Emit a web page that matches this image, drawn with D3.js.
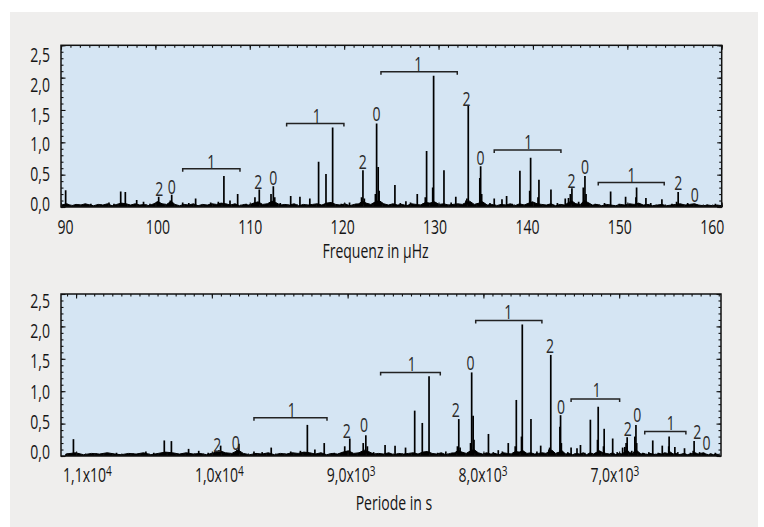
<!DOCTYPE html>
<meta charset="utf-8">
<style>
body { margin: 0; background: #fff; }
svg text {
	font-family: "Open Sans", "Noto Sans", sans-serif;
	font-size: 19.5px;
	fill: #151515;
	transform: scaleX(0.72);
	transform-box: fill-box;
	transform-origin: 50% 50%;
}
.ylab text { transform-origin: 100% 50%; }
</style>
<svg width="764" height="527"></svg>
<script src="https://d3js.org/d3.v7.min.js"></script>
<script>

// spectrum lines: [frequency in µHz, amplitude]
var peaks = [
	[90.07,0.26],[94.76,0.07],[96.03,0.24],[96.53,0.23],[97.76,0.11],[98.5,0.08],
	[100.0,0.09],[100.14,0.16],[101.4,0.10],[101.55,0.19],[102.74,0.07],[104.14,0.13],
	[105.77,0.07],[106.6,0.08],[107.2,0.48],[107.86,0.10],[108.69,0.20],
	[110.56,0.15],[111.03,0.27],[112.3,0.20],[112.55,0.32],[112.7,0.15],
	[114.43,0.17],[115.43,0.16],[116.5,0.13],[117.45,0.70],[118.25,0.51],[118.97,1.23],
	[122.1,0.15],[122.25,0.57],[122.4,0.13],[123.6,0.20],[123.73,1.29],[123.9,0.62],[124.0,0.25],
	[125.71,0.34],[126.9,0.09],[128.13,0.20],[129.0,0.15],[129.14,0.865],[129.8,0.30],[129.9,2.03],
	[131.02,0.57],[132.3,0.16],[133.4,0.10],[133.5,0.13],[133.65,1.56],[134.9,0.45],[134.99,0.63],[135.1,0.20],
	[136.46,0.13],[137.3,0.12],[137.8,0.17],[139.24,0.56],[140.3,0.25],[140.4,0.76],[141.2,0.15],[141.3,0.42],
	[142.6,0.27],[144.15,0.13],[144.5,0.14],[144.7,0.20],[144.87,0.29],[146.1,0.30],[146.28,0.48],[146.4,0.20],
	[149.06,0.24],[150.68,0.16],[151.8,0.15],[151.87,0.30],[152.88,0.14],[154.61,0.12],
	[156.2,0.08],[156.37,0.23],[157.9,0.04],[158.18,0.05],
	[91.5,0.04],[92.8,0.05],[93.9,0.04],[95.3,0.05],[99.2,0.05],[103.4,0.06],[109.6,0.05],
	[113.3,0.06],[119.9,0.05],[120.8,0.07],[121.5,0.05],[126.3,0.06],[127.4,0.07],[128.8,0.06],
	[131.8,0.07],[136.0,0.06],[138.4,0.05],[143.3,0.06],[145.6,0.08],[147.4,0.05],[148.4,0.06],
	[150.0,0.05],[153.4,0.06],[155.7,0.05],[157.4,0.06],[159.5,0.04],[160.4,0.05]
];

// noise floor: [frequency in µHz, amplitude]
var noise = [
	[89.6,0.03],[90.2,0.05],[90.7,0.02],[91.2,0.04],[91.7,0.03],[92.2,0.05],[92.7,0.03],[93.1,0.02],
	[93.6,0.04],[94.1,0.03],[94.6,0.05],[95.1,0.02],[95.6,0.04],[96.1,0.06],[96.6,0.05],[97.1,0.03],
	[97.6,0.05],[98.1,0.03],[98.6,0.04],[99.1,0.02],[99.6,0.05],[100.1,0.08],[100.5,0.05],[101.0,0.04],
	[101.5,0.09],[101.9,0.04],[102.4,0.02],[102.9,0.04],[103.4,0.03],[103.9,0.05],[104.4,0.02],[104.9,0.04],
	[105.4,0.03],[105.9,0.05],[106.4,0.04],[106.9,0.06],[107.4,0.05],[107.9,0.03],[108.4,0.05],[108.9,0.02],
	[109.4,0.04],[109.9,0.03],[110.4,0.06],[110.9,0.08],[111.4,0.04],[111.9,0.05],[112.4,0.09],[112.8,0.07],
	[113.3,0.03],[113.8,0.04],[114.3,0.03],[114.8,0.05],[115.3,0.02],[115.8,0.04],[116.3,0.03],[116.8,0.04],
	[117.3,0.05],[117.8,0.03],[118.3,0.06],[118.8,0.07],[119.3,0.04],[119.8,0.03],[120.3,0.05],[120.8,0.02],
	[121.3,0.04],[121.8,0.05],[122.2,0.09],[122.6,0.06],[123.1,0.04],[123.6,0.08],[124.0,0.10],[124.5,0.05],
	[125.0,0.03],[125.5,0.05],[126.0,0.03],[126.5,0.04],[127.0,0.02],[127.5,0.05],[128.0,0.04],[128.5,0.03],
	[129.0,0.07],[129.5,0.06],[130.0,0.08],[130.5,0.04],[131.0,0.05],[131.5,0.03],[132.0,0.04],[132.5,0.05],
	[133.0,0.04],[133.4,0.07],[133.8,0.09],[134.3,0.04],[134.8,0.06],[135.2,0.08],[135.7,0.03],[136.2,0.04],
	[136.7,0.02],[137.2,0.04],[137.7,0.03],[138.2,0.05],[138.7,0.02],[139.2,0.05],[139.7,0.03],[140.2,0.06],
	[140.6,0.08],[141.1,0.05],[141.6,0.04],[142.1,0.03],[142.6,0.05],[143.1,0.02],[143.6,0.04],[144.1,0.03],
	[144.5,0.07],[144.9,0.09],[145.3,0.05],[145.8,0.04],[146.2,0.10],[146.6,0.07],[147.1,0.03],[147.6,0.04],
	[148.1,0.02],[148.6,0.04],[149.1,0.03],[149.6,0.02],[150.1,0.04],[150.6,0.03],[151.1,0.05],[151.6,0.04],
	[152.1,0.06],[152.6,0.03],[153.1,0.04],[153.6,0.02],[154.1,0.03],[154.6,0.04],[155.1,0.02],[155.6,0.03],
	[156.1,0.04],[156.6,0.05],[157.1,0.03],[157.6,0.04],[158.1,0.05],[158.6,0.03],[159.1,0.02],[159.6,0.03],
	[160.1,0.02],[160.6,0.03],[161.1,0.02]
];

// multiplet brackets: [from µHz, to µHz, height]
var brackets = [
	[102.74,108.94,0.59],[113.99,120.19,1.29],[124.2,132.46,2.09],
	[136.46,143.68,0.88],[147.72,154.86,0.38]
];

// degree labels, upper panel: [µHz, height, text]
var topLabels = [
	[100.21,0.28,"2"],[101.55,0.31,"0"],[105.84,0.70,"1"],
	[110.92,0.39,"2"],[112.54,0.45,"0"],[117.24,1.42,"1"],
	[122.22,0.70,"2"],[123.73,1.45,"0"],[128.24,2.22,"1"],
	[133.47,1.68,"2"],[134.99,0.76,"0"],[140.14,1.01,"1"],
	[144.84,0.41,"2"],[146.28,0.62,"0"],[151.33,0.50,"1"],
	[156.37,0.38,"2"],[158.18,0.20,"0"]
];

// degree labels, lower panel: [period in s, height, text]
var bottomLabels = [
	[10011,0.17,"2"],[9872,0.20,"0"],[9447,0.72,"1"],
	[9030,0.39,"2"],[8899,0.49,"0"],[8537,1.43,"1"],
	[8203,0.71,"2"],[8090,1.44,"0"],[7804,2.23,"1"],
	[7488,1.70,"2"],[7405,0.77,"0"],[7134,1.03,"1"],
	[6899,0.43,"2"],[6826,0.64,"0"],[6573,0.51,"1"],
	[6371,0.38,"2"],[6300,0.20,"0"]
];

var ampTicks = [0, 0.5, 1, 1.5, 2, 2.5];
var freqTicks = [90, 100, 110, 120, 130, 140, 150, 160];
var periodTicks = [11000, 10000, 9000, 8000, 7000];
var periodExp = {11000: ["1,1", "4"], 10000: ["1,0", "4"], 9000: ["9,0", "3"], 8000: ["8,0", "3"], 7000: ["7,0", "3"]};

var svg = d3.select("svg");
svg.append("rect").attr("x", 10).attr("y", 12).attr("width", 748).attr("height", 515).attr("fill", "#efeeed");

var comma = function(d) { return d3.format(".1f")(d).replace(".", ","); };

function drawPanel(p) {
	var g = svg.append("g");
	var y = d3.scaleLinear().domain([0, 2.5]).range([p.bottom, p.top]);
	var px = function(f) { return p.x(p.pos(f)); };

	g.append("rect")
		.attr("x", p.left).attr("y", p.top)
		.attr("width", p.right - p.left).attr("height", p.bottom - p.top)
		.attr("fill", "#d5e5f3");

	g.append("clipPath").attr("id", p.id)
		.append("rect")
		.attr("x", p.left).attr("y", p.top)
		.attr("width", p.right - p.left).attr("height", p.bottom - p.top);

	var plot = g.append("g").attr("clip-path", "url(#" + p.id + ")");

	var area = d3.area()
		.x(function(d) { return px(d[0]); })
		.y0(y(0))
		.y1(function(d) { return y(d[1]); });

	plot.append("path")
		.datum(noise)
		.attr("d", area)
		.attr("fill", "#000")
		.attr("stroke", "#000")
		.attr("stroke-width", 1);

	plot.selectAll("line.peak")
		.data(peaks)
		.join("line")
		.attr("class", "peak")
		.attr("x1", function(d) { return px(d[0]); })
		.attr("x2", function(d) { return px(d[0]); })
		.attr("y1", y(0))
		.attr("y2", function(d) { return y(d[1]); })
		.attr("stroke", "#000")
		.attr("stroke-width", 1.7);

	// brackets
	g.selectAll("path.bracket")
		.data(brackets)
		.join("path")
		.attr("class", "bracket")
		.attr("d", function(d) {
			var yy = y(d[2]);
			return "M" + px(d[0]) + "," + (yy + 3) + "V" + yy + "H" + px(d[1]) + "V" + (yy + 3);
		})
		.attr("fill", "none")
		.attr("stroke", "#222")
		.attr("stroke-width", 1.5);

	g.selectAll("text.deg")
		.data(p.labels)
		.join("text")
		.attr("class", "deg")
		.attr("x", function(d) { return p.x(d[0]); })
		.attr("y", function(d) { return y(d[1]); })
		.attr("text-anchor", "middle")
		.attr("dominant-baseline", "central")
		.style("fill", "#2a2a2a")
		.text(function(d) { return d[2]; });

	// inward ticks
	function ticks(axis, transform, vals, size) {
		var a = g.append("g").attr("transform", transform)
			.call(axis.tickValues(vals).tickSize(-size).tickFormat(""));
		a.select(".domain").remove();
		a.selectAll("line").attr("stroke", "#111").attr("stroke-width", 1.1);
	}
	var yMinor = d3.range(0, 26).map(function(i) { return i / 10; });
	ticks(d3.axisTop(p.xTick), "translate(0," + p.top + ")", p.minorX, 2.5);
	ticks(d3.axisTop(p.xTick), "translate(0," + p.top + ")", p.majorX, 4.5);
	ticks(d3.axisBottom(p.xTick), "translate(0," + p.bottom + ")", p.minorX, 2.5);
	ticks(d3.axisBottom(p.xTick), "translate(0," + p.bottom + ")", p.majorX, 4.5);
	ticks(d3.axisLeft(y), "translate(" + p.left + ",0)", yMinor, 2.5);
	ticks(d3.axisLeft(y), "translate(" + p.left + ",0)", ampTicks, 4.5);
	ticks(d3.axisRight(y), "translate(" + p.right + ",0)", yMinor, 2.5);
	ticks(d3.axisRight(y), "translate(" + p.right + ",0)", ampTicks, 4.5);

	// frame
	g.append("rect")
		.attr("x", p.left).attr("y", p.top)
		.attr("width", p.right - p.left).attr("height", p.bottom - p.top)
		.attr("fill", "none").attr("stroke", "#111").attr("stroke-width", 1.5);

	// y labels
	var yl = g.append("g").attr("class", "ylab").attr("transform", "translate(50,0)")
		.call(d3.axisLeft(p.yLabel).tickValues(ampTicks).tickSize(0).tickPadding(0).tickFormat(comma));
	yl.select(".domain").remove();
	yl.selectAll("text").attr("x", 0).attr("dy", "0.35em");

	// x labels
	var xl = g.append("g").attr("transform", "translate(0," + p.xLabelY + ")")
		.call(d3.axisBottom(p.x).tickValues(p.labelVals).tickSize(0).tickPadding(0));
	xl.select(".domain").remove();
	xl.selectAll("text").attr("y", 0).attr("dy", "0.35em");
	if (p.formatLabel) xl.selectAll("text").each(p.formatLabel);

	g.append("text")
		.attr("x", p.titleX).attr("y", p.titleY)
		.attr("text-anchor", "middle")
		.attr("dominant-baseline", "central")
		.text(p.title);
}

// upper panel: frequency
drawPanel({
	id: "clipTop",
	left: 61, right: 721.7, top: 45.3, bottom: 207,
	x: d3.scaleLinear().domain([90, 160]).range([65, 711.7]),
	xTick: d3.scaleLinear().domain([90, 160]).range([61, 721.7]),
	pos: function(f) { return f; },
	minorX: d3.range(90, 161),
	majorX: freqTicks,
	yLabel: d3.scaleLinear().domain([0, 2.5]).range([203.3, 55]),
	labelVals: freqTicks,
	xLabelY: 227.5,
	labels: topLabels,
	title: "Frequenz in µHz", titleX: 375.5, titleY: 251
});

// lower panel: period = 1 / frequency
drawPanel({
	id: "clipBottom",
	left: 61, right: 721, top: 294, bottom: 456,
	x: d3.scaleLinear().domain([11000, 7000]).range([86.95, 614.35]),
	xTick: d3.scaleLinear().domain([1e6 / 90, 1e6 / 160]).range([61, 721]),
	pos: function(f) { return 1e6 / f; },
	minorX: d3.range(-11, 62).map(function(k) { return 7000 + k * 1000 / 15; }),
	majorX: periodTicks,
	yLabel: d3.scaleLinear().domain([0, 2.5]).range([451.7, 300.7]),
	labelVals: periodTicks,
	xLabelY: 475,
	labels: bottomLabels,
	formatLabel: function(d) {
		var t = d3.select(this).text(null);
		t.append("tspan").text(periodExp[d][0] + "x10");
		t.append("tspan").attr("font-size", 14).attr("dy", "-0.4em").text(periodExp[d][1]);
	},
	title: "Periode in s", titleX: 394, titleY: 503
});

</script>
